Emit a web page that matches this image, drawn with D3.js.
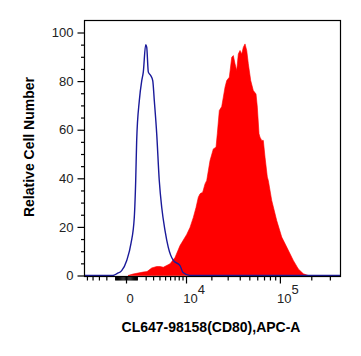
<!DOCTYPE html>
<html>
<head>
<meta charset="utf-8">
<script src="https://cdn.jsdelivr.net/npm/d3@7"></script>
<style>
  html, body { margin: 0; padding: 0; background: #fff; }
  svg { display: block; font-family: "Liberation Sans", Arial, sans-serif; }
</style>
</head>
<body>
<svg id="chart" width="361" height="356"></svg>
<script>
// ---- data (fluorescence intensity, % of max) ----
const isotypeX = [-5573, -1560, -1230, -810, -370, 60, 430, 740, 880, 980, 1260, 1530, 1710, 2000, 2130, 2340, 2660, 2950, 3180, 3550, 3970, 4390, 4990, 5630, 6710, 8330, 9140, 11240, 14850, 374000];
const isotypeY = [0, 0, 0, 0.8, 2, 6.2, 13.2, 23.9, 39, 55.6, 72, 80.2, 83.7, 95, 94, 83.7, 82.3, 80.2, 72, 58.4, 39, 28, 18.5, 11.6, 6.2, 4.1, 1.2, 0, 0, 0];

const cd80X = [167, 617, 1676, 2168, 2803, 3552, 4093, 4672, 5985, 7095, 8331, 10210, 11241, 12348, 13312, 14180, 14847, 15963, 16965, 17737, 19321, 21019, 22504, 23249, 24437, 25932, 26973, 28117, 29306, 31210, 33060, 34350, 35772, 37243, 38679, 40263, 41901, 43501, 45260, 47088, 48868, 51657, 54846, 58348, 60106, 62489, 63930, 66448, 68906, 71616, 75435, 77157, 83297, 93180, 104179, 116434, 134764, 150482, 167993, 187491, 242165];
const cd80Y = [0, 0.6, 1.4, 1.6, 3.1, 3.7, 3.7, 3.4, 4.8, 7.4, 12.3, 16.9, 19.8, 23.9, 28, 32.2, 33.6, 34.3, 37.7, 39.1, 47.3, 52.1, 52.8, 58.4, 67.9, 69.5, 73.4, 77.5, 80.2, 81.6, 89.8, 90.5, 87.1, 84.4, 91.2, 92.6, 91.2, 93.9, 95.3, 92.6, 87.1, 80.2, 76.1, 74.7, 69.3, 58.3, 56.9, 55.6, 55.6, 48.7, 40.5, 39.1, 30.9, 22.6, 15.8, 11.7, 6.2, 2.7, 0.7, 0, 0];

const yMajorTicks = [0, 20, 40, 60, 80, 100];
const yMinorTicks = [5, 10, 15, 25, 30, 35, 45, 50, 55, 65, 70, 75, 85, 90, 95];
const xMajorTicks = [0, 10000, 100000];
const xMinorTicks = [-5000, -4000, -3000, -2000,
  -1000, -900, -800, -700, -600, -500, -400, -300, -200, -100,
  100, 200, 300, 400, 500, 600, 700, 800, 900, 1000,
  2000, 3000, 4000, 5000, 6000, 7000, 8000, 9000,
  20000, 30000, 40000, 50000, 60000, 70000, 80000, 90000,
  200000, 300000];
const xTickLabels = [{v: 0, base: "0", exp: ""}, {v: 10000, base: "10", exp: "4"}, {v: 100000, base: "10", exp: "5"}];
const xTitle = "CL647-98158(CD80),APC-A";
const yTitle = "Relative Cell Number";

// ---- layout ----
const L = 84, R = 340, T = 20, B = 276;
const svg = d3.select("#chart");

const x = d3.scaleSymlog().constant(3800).domain([-5573, 374000]).range([L, R]);
const y = d3.scaleLinear().domain([0, 100]).range([275.5, 32.5]);

// red filled histogram
const cd80 = cd80X.map((v, i) => [v, cd80Y[i]]);
svg.append("path")
  .datum(cd80)
  .attr("fill", "#ff0000")
  .attr("stroke", "#ff0000")
  .attr("stroke-width", 0.6)
  .attr("d", d3.area().x(d => x(d[0])).y0(y(0)).y1(d => y(d[1])).curve(d3.curveLinear));

// blue isotype line
const iso = isotypeX.map((v, i) => [v, isotypeY[i]]);
svg.append("path")
  .datum(iso)
  .attr("fill", "none")
  .attr("stroke", "#1a1a9a")
  .attr("stroke-width", 1.4)
  .attr("d", d3.line().x(d => x(d[0])).y(d => y(d[1])).curve(d3.curveMonotoneX));

// frame
svg.append("rect")
  .attr("x", L + 0.5).attr("y", T + 0.5)
  .attr("width", R - L).attr("height", B - T)
  .attr("fill", "none").attr("stroke", "#000").attr("stroke-width", 1.2);

// y axis
const yAxisMaj = svg.append("g").attr("transform", `translate(${L + 0.5},0)`)
  .call(d3.axisLeft(y).tickValues(yMajorTicks).tickSize(7).tickSizeOuter(0).tickPadding(4));
const yAxisMin = svg.append("g").attr("transform", `translate(${L + 0.5},0)`)
  .call(d3.axisLeft(y).tickValues(yMinorTicks).tickSize(3.5).tickSizeOuter(0).tickFormat(""));
[yAxisMaj, yAxisMin].forEach(g => {
  g.select(".domain").remove();
  g.selectAll("line").attr("stroke", "#000").attr("stroke-width", 1.2);
});
yAxisMaj.selectAll("text")
  .attr("font-size", 13).attr("fill", "#222")
  .attr("font-family", "Liberation Sans, Arial, sans-serif");

// x axis
const xAxisMaj = svg.append("g").attr("transform", `translate(0,${B + 0.5})`)
  .call(d3.axisBottom(x).tickValues(xMajorTicks).tickSize(7).tickSizeOuter(0).tickFormat(""));
const xAxisMin = svg.append("g").attr("transform", `translate(0,${B + 0.5})`)
  .call(d3.axisBottom(x).tickValues(xMinorTicks).tickSize(4).tickSizeOuter(0).tickFormat(""));
[xAxisMaj, xAxisMin].forEach(g => {
  g.select(".domain").remove();
  g.selectAll("line").attr("stroke", "#000").attr("stroke-width", 1.2);
});

// x tick labels with superscripts
const lab = svg.append("g").attr("font-size", 13).attr("fill", "#222");
xTickLabels.forEach(t => {
  const txt = lab.append("text")
    .attr("x", x(t.v) + (t.exp ? 8 : 4))
    .attr("y", 303)
    .attr("text-anchor", "middle");
  txt.append("tspan").text(t.base);
  if (t.exp) txt.append("tspan").attr("dy", -9).text(t.exp);
});

// axis titles
svg.append("text")
  .attr("x", 211).attr("y", 332)
  .attr("text-anchor", "middle")
  .attr("font-size", 14).attr("font-weight", "bold").attr("fill", "#000")
  .text(xTitle);

svg.append("text")
  .attr("transform", "translate(34,147) rotate(-90)")
  .attr("text-anchor", "middle")
  .attr("font-size", 14).attr("font-weight", "bold").attr("fill", "#000")
  .text(yTitle);
</script>
</body>
</html>
